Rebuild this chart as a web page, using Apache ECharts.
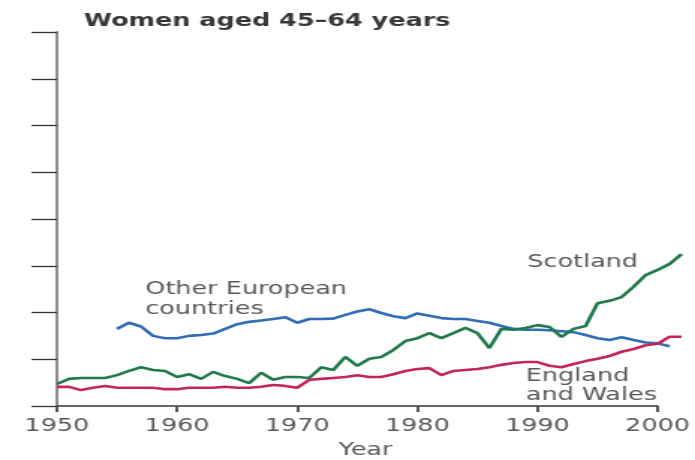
<!DOCTYPE html>
<html>
<head>
<meta charset="utf-8">
<script src="https://cdn.jsdelivr.net/npm/echarts@6/dist/echarts.min.js"></script>
<style>
  html, body { margin: 0; padding: 0; background: #fff; overflow: hidden; }
  /* the chart is drawn narrow and widened, giving the broad lettering of the print figure */
  #wrap { width: 695px; height: 460px; overflow: hidden; }
  #chart { width: 464px; height: 460px; transform: scaleX(1.498); transform-origin: 0 0; }
</style>
</head>
<body>
<div id="wrap"><div id="chart"></div></div>
<script>
// Mortality trend, women aged 45-64 (relative units, one tick = one unit)
const xTicks = [1950, 1960, 1970, 1980, 1990, 2000];

const scotlandStart = 1950;
const scotland = [
  0.47, 0.58, 0.60, 0.60, 0.60, 0.66, 0.75, 0.83, 0.77, 0.75,
  0.62, 0.68, 0.58, 0.73, 0.64, 0.58, 0.49, 0.71, 0.56, 0.62,
  0.62, 0.60, 0.83, 0.77, 1.05, 0.86, 1.01, 1.05, 1.20, 1.39,
  1.45, 1.56, 1.45, 1.56, 1.67, 1.56, 1.24, 1.65, 1.63, 1.67,
  1.73, 1.69, 1.48, 1.65, 1.71, 2.20, 2.25, 2.33, 2.55, 2.80,
  2.91, 3.04, 3.25
];

const englandStart = 1950;
const englandWales = [
  0.41, 0.41, 0.34, 0.39, 0.43, 0.39, 0.39, 0.39, 0.39, 0.36,
  0.36, 0.39, 0.39, 0.39, 0.41, 0.39, 0.39, 0.41, 0.45, 0.43,
  0.39, 0.56, 0.58, 0.60, 0.62, 0.66, 0.62, 0.62, 0.68, 0.75,
  0.79, 0.81, 0.66, 0.75, 0.77, 0.79, 0.83, 0.88, 0.92, 0.94,
  0.94, 0.86, 0.83, 0.90, 0.96, 1.01, 1.07, 1.16, 1.22, 1.30,
  1.33, 1.48, 1.48
];

const europeStart = 1955;
const otherEurope = [
  1.65, 1.78, 1.70, 1.50, 1.45, 1.45, 1.50, 1.52, 1.55, 1.65,
  1.75, 1.80, 1.83, 1.86, 1.90, 1.78, 1.86, 1.86, 1.87, 1.95,
  2.02, 2.07, 1.99, 1.92, 1.88, 1.98, 1.93, 1.88, 1.86, 1.86,
  1.82, 1.78, 1.71, 1.65, 1.63, 1.63, 1.62, 1.60, 1.58, 1.52,
  1.45, 1.41, 1.47, 1.41, 1.36, 1.34, 1.28
];

const toPairs = (start, vals) => vals.map((v, i) => [start + i, v]);

const FONT = 'DejaVu Sans';
const TEXT_GREY = '#585858';

// The drawn axis stops at 2000, but the series run on to 2002, so the
// lines live in a second, slightly wider grid sharing the same year scale.
const W = 464, LEFT = 38, AXIS_RIGHT = 25, TOP = 32, BOTTOM = 54;
const X_MIN = xTicks[0], X_MAX = xTicks[xTicks.length - 1], DATA_MAX = 2003;
const pxPerYear = (W - LEFT - AXIS_RIGHT) / (X_MAX - X_MIN);
const DATA_RIGHT = W - LEFT - pxPerYear * (DATA_MAX - X_MIN);

const chart = echarts.init(document.getElementById('chart'), null, { renderer: 'canvas' });

const lineSeries = (name, start, vals, color) => ({
  name,
  type: 'line',
  xAxisIndex: 1,
  yAxisIndex: 1,
  data: toPairs(start, vals),
  showSymbol: false,
  symbol: 'none',
  clip: false,
  lineStyle: { color, width: 2.6 },
  emphasis: { disabled: true },
  animation: false
});

chart.setOption({
  backgroundColor: '#fff',
  animation: false,
  title: {
    text: 'Women aged 45\u201364 years',
    left: 51,
    top: 8,
    textStyle: { fontFamily: FONT, fontSize: 17, fontWeight: 'bold', color: '#383838' }
  },
  grid: [
    { left: LEFT, right: AXIS_RIGHT, top: TOP, bottom: BOTTOM, outerBoundsMode: 'none' },
    { left: LEFT, right: DATA_RIGHT, top: TOP, bottom: BOTTOM, outerBoundsMode: 'none' }
  ],
  xAxis: [
    {
      gridIndex: 0,
      type: 'value',
      min: X_MIN,
      max: X_MAX,
      interval: 10,
      name: 'Year',
      nameLocation: 'middle',
      nameGap: 36,
      nameTextStyle: { fontFamily: FONT, fontSize: 17, color: TEXT_GREY, padding: [0, 0, 0, 11] },
      axisLine: { show: true, onZero: false, lineStyle: { color: '#333', width: 1.5 } },
      axisTick: { show: true, inside: false, length: 6, lineStyle: { color: '#555', width: 2 } },
      axisLabel: {
        fontFamily: FONT, fontSize: 17, color: TEXT_GREY, margin: 12,
        formatter: (v) => String(v)
      },
      splitLine: { show: false }
    },
    {
      gridIndex: 1,
      type: 'value',
      min: X_MIN,
      max: DATA_MAX,
      show: false
    }
  ],
  yAxis: [
    {
      gridIndex: 0,
      type: 'value',
      min: 0,
      max: 8,
      interval: 1,
      axisLine: { show: true, lineStyle: { color: '#8e8e8e', width: 2 } },
      axisTick: { show: true, inside: false, length: 17, lineStyle: { color: '#333', width: 1.3 } },
      axisLabel: { show: false },
      splitLine: { show: false }
    },
    {
      gridIndex: 1,
      type: 'value',
      min: 0,
      max: 8,
      show: false
    }
  ],
  series: [
    lineSeries('Other European countries', europeStart, otherEurope, '#2f6db4'),
    lineSeries('England and Wales', englandStart, englandWales, '#c3265b'),
    lineSeries('Scotland', scotlandStart, scotland, '#1f7a4c')
  ],
  graphic: [
    {
      type: 'text', left: 97, top: 280,
      style: { text: 'Other European\ncountries', fontFamily: FONT, fontSize: 17, lineHeight: 20, fill: TEXT_GREY }
    },
    {
      type: 'text', left: 352, top: 253,
      style: { text: 'Scotland', fontFamily: FONT, fontSize: 17, lineHeight: 20, fill: TEXT_GREY }
    },
    {
      type: 'text', left: 351, top: 367,
      style: { text: 'England\nand Wales', fontFamily: FONT, fontSize: 17, lineHeight: 19, fill: TEXT_GREY }
    }
  ]
});
</script>
</body>
</html>
